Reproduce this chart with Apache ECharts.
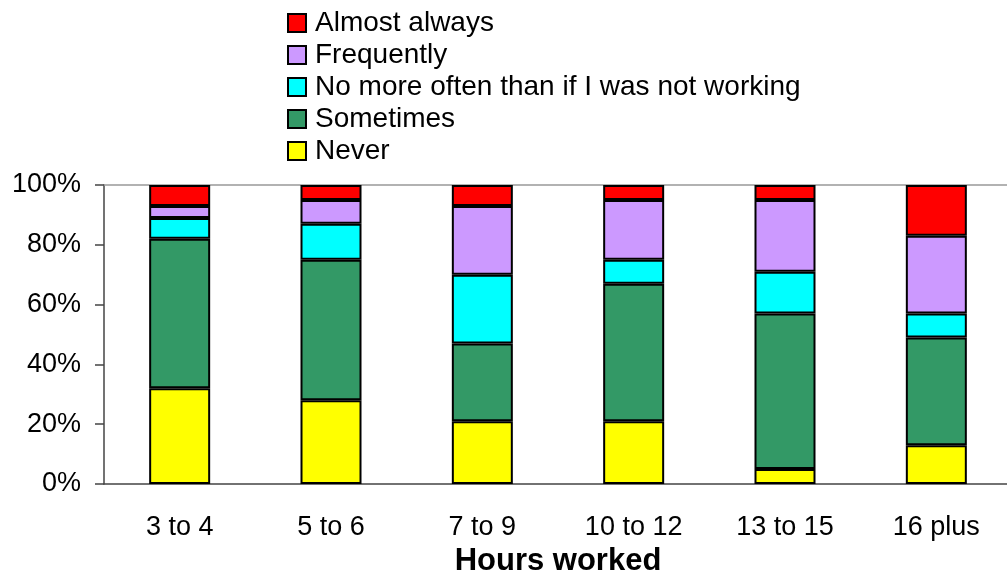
<!DOCTYPE html>
<html>
<head>
    <meta charset="UTF-8">
    <title>Hours worked</title>
    <script src="https://cdn.jsdelivr.net/npm/echarts@6/dist/echarts.min.js"></script>
    <style>
        body { margin: 0; background: #fff; }
        #chart { width: 1007px; height: 572px; }
    </style>
</head>
<body>
<div id="chart"></div>
<script>
    // categories and percentages
    var hours = ['3 to 4', '5 to 6', '7 to 9', '10 to 12', '13 to 15', '16 plus'];
    var never = [32, 28, 21, 21, 5, 13];
    var sometimes = [50, 47, 26, 46, 52, 36];
    var noMore = [7, 12, 23, 8, 14, 8];
    var frequently = [4, 8, 23, 20, 24, 26];
    var almostAlways = [7, 5, 7, 5, 5, 17];
    var yTicks = [0, 20, 40, 60, 80, 100];

    var font = '"Liberation Sans", Arial, sans-serif';

    function bar(name, data, color) {
        return {
            name: name,
            type: 'bar',
            stack: 'all',
            barWidth: 61,
            data: data,
            itemStyle: {color: color, borderColor: '#000', borderWidth: 2}
        };
    }

    var chart = echarts.init(document.getElementById('chart'), null, {renderer: 'canvas'});
    chart.setOption({
        animation: false,
        textStyle: {fontFamily: font},
        legend: {
            orient: 'vertical',
            left: 282,
            top: 4,
            itemWidth: 18,
            itemHeight: 18,
            itemGap: 4,
            icon: 'rect',
            data: ['Almost always', 'Frequently', 'No more often than if I was not working', 'Sometimes', 'Never'],
            textStyle: {fontFamily: font, fontSize: 28, color: '#000', padding: [0, 0, 0, 4]}
        },
        grid: {left: 104, top: 185, height: 299, width: 908, outerBoundsMode: 'none'},
        xAxis: [{
            type: 'category',
            data: hours,
            position: 'bottom',
            axisLine: {lineStyle: {color: '#444', width: 1.5}},
            axisTick: {length: 9, lineStyle: {color: '#444', width: 1.5}},
            axisLabel: {color: '#000', fontSize: 27, fontFamily: font, margin: 30},
            name: 'Hours worked',
            nameLocation: 'middle',
            nameGap: 48,
            nameTextStyle: {color: '#000', fontSize: 31, fontWeight: 'bold', fontFamily: font}
        }, {
            type: 'category',
            data: hours,
            position: 'top',
            axisLine: {lineStyle: {color: '#999', width: 1.5}},
            axisTick: {show: false},
            axisLabel: {show: false}
        }],
        yAxis: {
            type: 'value',
            min: yTicks[0],
            max: yTicks[yTicks.length - 1],
            interval: 20,
            axisLine: {show: true, lineStyle: {color: '#444', width: 1.5}},
            axisTick: {show: true, length: 9, lineStyle: {color: '#444', width: 1.5}},
            splitLine: {show: false},
            axisLabel: {color: '#000', fontSize: 27, fontFamily: font, margin: 23, formatter: '{value}%'}
        },
        series: [
            bar('Never', never, '#FFFF00'),
            bar('Sometimes', sometimes, '#339966'),
            bar('No more often than if I was not working', noMore, '#00FFFF'),
            bar('Frequently', frequently, '#CC99FF'),
            bar('Almost always', almostAlways, '#FF0000')
        ]
    });
</script>
</body>
</html>
